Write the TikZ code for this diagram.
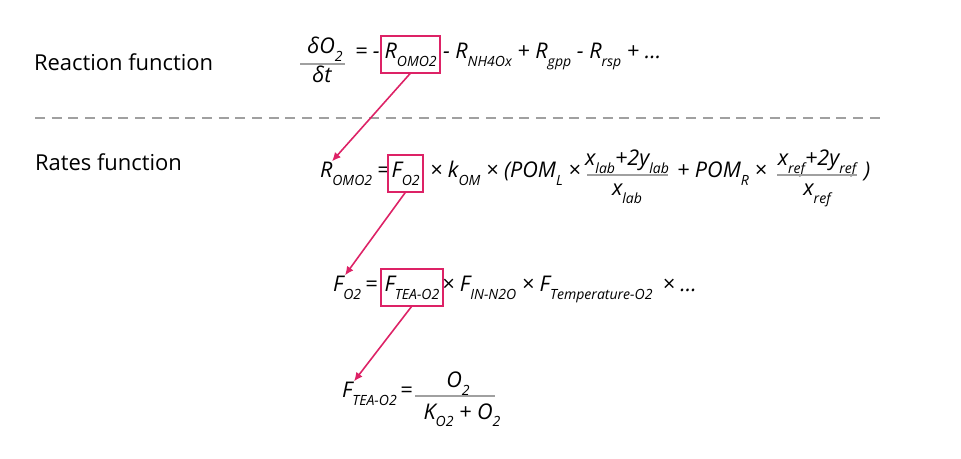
\documentclass[tikz,border=0pt]{standalone}
\usepackage{fontspec}
\setmainfont{Open Sans}
\usetikzlibrary{arrows.meta}
\usetikzlibrary{positioning}
\definecolor{mred}{RGB}{221,34,102}
\definecolor{mgray}{RGB}{160,160,160}
\newcommand{\sbx}[1]{\raisebox{-4.2pt}{\fontsize{8}{9}\selectfont #1}}
\tikzset{lbl/.style = {anchor=base west, inner sep=0pt, outer sep=0pt,
                       font=\fontsize{12.5}{14}\selectfont},
         eq/.style = {lbl, font=\fontsize{12.3}{14}\selectfont\itshape},
         lhs/.style = {eq, text height=9.5pt},
         hit/.style = {eq, draw=mred, line width=1.1pt, inner xsep=2pt,
                       text height=13pt, text depth=8pt},
         frac/.style = {draw=mgray, line width=0.6pt},
         lead/.style = {draw=mred, line width=0.9pt,
                        -{Latex[length=5pt, width=4.5pt]}}}

\begin{document}
\begin{tikzpicture}[x=0.02cm, y=-0.02cm]
    \useasboundingbox (0, 0) rectangle (961, 459);

    % reaction function
    \node [lbl] (rxn) at (34, 71) {Reaction function};
    \node [eq, anchor=base] (dnum) at (325, 54) {δO\sbx{2}};
    \node [eq, anchor=base] (dden) at (322, 83) {δt};
    \draw [frac] (300, 64) -- (345, 64);
    \node [eq] (eqa) at (355, 59) {= -};
    \node [hit] (romoA) at (381, 59) {R\sbx{OMO2}};
    \node [eq] (restA) at (443, 59) {- R\sbx{NH4Ox} + R\sbx{gpp} - R\sbx{rsp} + ...};

    \draw [mgray, line width=1.1pt, dash pattern=on 0.2cm off 0.134cm] (35, 118) -- (880, 118);

    % rates function
    \node [lbl] (rts) at (35, 171) {Rates function};
    \node [lhs] (romoB) at (320, 178) {R\sbx{OMO2}};
    \node [eq] (eqb) at (377, 178) {=};
    \node [hit] (fo2B) at (388, 178) {F\sbx{O2}};
    \node [eq] (restB) at (430, 178) {× k\sbx{OM} × (POM\sbx{L} ×};
    \node [eq, anchor=base] (labn) at (627, 166) {x\sbx{lab}+2y\sbx{lab}};
    \node [eq, anchor=base] (labd) at (627, 196) {x\sbx{lab}};
    \draw [frac] (587, 175) -- (668, 175);
    \node [eq] (pomr) at (677, 178) {+ POM\sbx{R} ×};
    \node [eq, anchor=base] (refn) at (817, 166) {x\sbx{ref}+2y\sbx{ref}};
    \node [eq, anchor=base] (refd) at (817, 196) {x\sbx{ref}};
    \draw [frac] (777, 175) -- (857, 175);
    \node [eq] (clsB) at (864, 178) {)};

    \node [lhs] (fo2C) at (333, 292) {F\sbx{O2}};
    \node [eq] (eqc) at (365, 292) {=};
    \node [hit] (fteaC) at (381, 292) {F\sbx{TEA-O2}};
    \node [eq] (restC) at (442, 292) {× F\sbx{IN-N2O} × F\sbx{Temperature-O2}};
    \node [eq, base right=0.2cm of restC] (dotsC) {× ...};

    \node [lhs] (fteaD) at (342, 398) {F\sbx{TEA-O2}};
    \node [eq] (eqd) at (400, 398) {=};
    \node [eq, anchor=base] (o2n) at (458, 388) {O\sbx{2}};
    \node [eq, anchor=base] (o2d) at (462, 419) {K\sbx{O2} + O\sbx{2}};
    \draw [frac] (415, 396) -- (495, 396);

    \draw [lead] (romoA.south) -- ([xshift=0.24cm]romoB.north west);
    \draw [lead] (fo2B.south) -- ([xshift=0.24cm]fo2C.north west);
    \draw [lead] (fteaC.south) -- ([xshift=0.24cm]fteaD.north west);
  \end{tikzpicture}
\end{document}
